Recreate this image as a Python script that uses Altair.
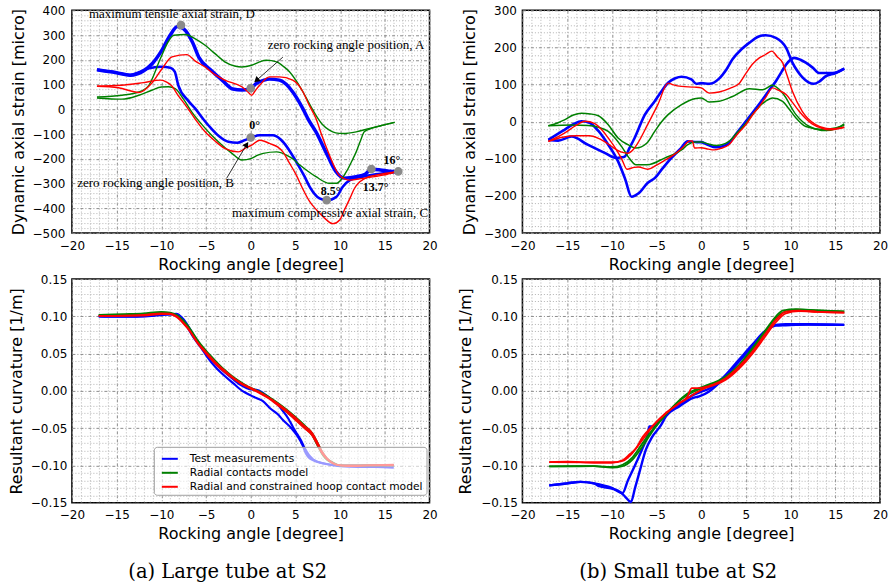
import math
import altair as alt
import pandas as pd

SERIES = ["Test measurements", "Radial contacts model", "Radial and constrained hoop contact model"]
COLORS = ["#0000ff", "#008000", "#ff0000"]

# ---------------- (a) large tube: dynamic axial strain ----------------
A_STRAIN_BLUE_UP = [(-17.2, 160), (-15, 148), (-13.5, 138), (-12, 155), (-11, 185), (-10, 235), (-9, 300),
                    (-8.2, 335), (-7.5, 325), (-6.5, 270), (-5.8, 210), (-4.5, 160), (-3.2, 118), (-2, 82),
                    (-1, 78), (0, 85), (0.6, 104), (1.5, 118), (2.1, 122), (3.2, 118), (4, 100), (4.7, 70),
                    (5.8, 5), (6.5, -45), (7.3, -91), (8.4, -172), (9.5, -250), (10.5, -278), (11.8, -272),
                    (12.8, -262), (13.5, -242), (14.5, -245), (15.5, -250), (16.5, -252)]
A_STRAIN_BLUE_LO = [(-17.2, 160), (-15, 148), (-13.5, 138), (-12.5, 150), (-11.5, 165), (-10, 172), (-9, 168),
                    (-8.5, 152), (-8.1, 97), (-7, 35), (-6.2, 3), (-5.3, -40), (-4.4, -78), (-3.5, -110),
                    (-2.5, -131), (-1.5, -135), (-0.7, -125), (0, -115), (1, -105), (2.5, -105), (3.6, -131),
                    (4.3, -165), (5.1, -212), (6, -270), (6.6, -313), (7.7, -360), (8.5, -368), (9.6, -353),
                    (10.3, -313), (11.1, -286), (12.5, -272), (14, -262), (16.5, -252)]
A_STRAIN_GREEN_UP = [(-17.2, 50), (-14.4, 57), (-12.5, 70), (-11.4, 97), (-10.1, 205), (-9.2, 275), (-8.6, 299),
                     (-7.3, 302), (-6.2, 285), (-5.1, 259), (-4, 225), (-2.9, 192), (-1.8, 175), (-1, 171),
                     (0.1, 178), (1, 192), (1.75, 198), (2.9, 192), (3.6, 175), (4.36, 151), (5.1, 115),
                     (5.85, 70), (6.6, 20), (7.3, -24), (8, -60), (8.8, -84), (9.5, -95), (10.3, -98),
                     (11.8, -91), (13.3, -77), (14.8, -64), (16.1, -53)]
A_STRAIN_GREEN_LO = [(-17.2, 46), (-14.4, 41), (-12.5, 57), (-11, 78), (-10, 90), (-9.2, 91), (-8.45, 84),
                     (-7.5, 40), (-6.6, -10), (-5.5, -60), (-4.4, -104), (-3.2, -145), (-2.1, -178), (-1, -205),
                     (0.1, -198), (0.8, -185), (1.4, -178), (2.9, -172), (4, -185), (4.8, -203), (5.5, -225),
                     (6.4, -250), (7.3, -272), (8.8, -299), (9.6, -299), (10.2, -280), (10.7, -252),
                     (11.3, -210), (11.8, -172), (12.3, -125), (12.7, -91), (13.3, -80), (14.5, -67), (16.1, -53)]
A_STRAIN_RED_UP = [(-17.2, 93), (-14.8, 87), (-12.5, 68), (-11.1, 104), (-10, 160), (-8.8, 212), (-7.15, 221),
                   (-6.2, 195), (-5.1, 171), (-4, 140), (-2.9, 118), (-1, 91), (-0.3, 70), (0.1, 57), (0.5, 75),
                   (1, 97), (2.1, 131), (3.2, 131), (4.7, 118), (5.3, 100), (5.85, 70), (6.5, 20), (7.3, -37),
                   (8, -110), (8.8, -185), (9.4, -235), (9.9, -266), (11.1, -286), (12.5, -279), (14.8, -266),
                   (16.3, -252)]
A_STRAIN_RED_LO = [(-17.2, 93), (-14.5, 97), (-12, 108), (-10.05, 118), (-9.4, 110), (-8.9, 97), (-8, 50),
                   (-7.3, 17), (-6.2, -40), (-5.1, -91), (-4, -128), (-2.9, -158), (-1.4, -172), (-0.5, -155),
                   (0.1, -145), (1, -125), (1.6, -130), (2.1, -138), (3, -152), (3.6, -172), (4.3, -215),
                   (5.1, -266), (5.8, -320), (6.6, -373), (7.4, -408), (8.1, -434), (9.2, -462), (9.95, -447),
                   (10.5, -405), (11.1, -360), (11.6, -320), (12.2, -293), (13, -275), (14, -266), (16.3, -252)]

# marked positions (gray dots) and annotations
A_DOT_X = [-7.8, 0.0, 0.0, 8.5, 13.5, 16.5]
A_DOT_Y = [340, 85, -114, -367, -241, -251]
A_NOTE_TEXT = ["maximum tensile axial strain, D", "zero rocking angle position, A",
               "zero rocking angle position, B", "maximum compressive axial strain, C"]
A_NOTE_X = [-18.1, 1.9, -19.4, -2.1]
A_NOTE_Y = [384, 259, -297, -418]
A_ANGLE_TEXT = ["0°", "8.5°", "13.7°", "16°"]
A_ANGLE_X = [0.45, 8.94, 13.97, 15.8]
A_ANGLE_Y = [-64, -330, -314, -205]
A_ARROW_FROM_X = [3.6, -2.7]
A_ARROW_FROM_Y = [211, -279]
A_ARROW_TO_X = [0.64, -0.45]
A_ARROW_TO_Y = [117, -142]

# ---------------- (b) small tube: dynamic axial strain ----------------
B_STRAIN_BLUE_A = [(-17.1, -49), (-16, -51), (-14.5, -40), (-12.7, -62), (-10.8, -84), (-9.5, -98), (-8.9, -96),
                   (-8.56, -94), (-8, -70), (-7.45, -44), (-6.3, 19), (-5.2, 55), (-4.5, 80), (-3.7, 105),
                   (-2.9, 117), (-2.2, 121), (-1.1, 114), (-0.56, 102), (0, 104), (0.9, 102), (2, 116),
                   (2.8, 140), (3.5, 168), (4.5, 195), (5.4, 213), (6.3, 228), (7.2, 233), (8.35, 226),
                   (9.5, 199), (10.2, 159), (10.8, 135), (11.3, 120), (12, 106), (12.6, 102), (13.2, 108),
                   (13.9, 122), (15.05, 131), (16, 143)]
B_STRAIN_BLUE_B = [(-17.1, -49), (-15.5, -25), (-14.3, -7), (-13.4, 1), (-12.5, -3), (-11.5, -25),
                   (-10.4, -62), (-9.3, -107), (-8.5, -155), (-7.8, -202), (-7, -193), (-6, -165), (-5.2, -152),
                   (-4.3, -125), (-3.35, -98), (-2.4, -75), (-1.5, -53), (-0.5, -55), (0, -55), (0.8, -63),
                   (1.6, -69), (2.3, -67), (3.1, -58), (4, -30), (5, 1), (6, 32), (6.85, 59), (7.6, 85),
                   (8.35, 109), (9, 135), (9.5, 154), (10.4, 172), (11.1, 167), (11.7, 159), (12.5, 145),
                   (13.2, 131), (14.7, 131), (16, 143)]
B_STRAIN_GREEN_A = [(-17.1, -11), (-16, -3), (-15.3, 5), (-14.3, 18), (-13.4, 23), (-12.4, 21), (-11.5, 16),
                    (-10.4, -8), (-9.3, -44), (-8.2, -62), (-7.3, -71), (-6.1, -58), (-5.2, -26), (-4.5, -2),
                    (-3.7, 19), (-2.2, 46), (-0.74, 62), (0, 64), (0.9, 53), (2, 55), (3.5, 68), (5.4, 89),
                    (6.85, 86), (7.97, 98), (9.1, 77), (10.6, 19), (12.1, -13), (13.9, -24), (15.05, -19),
                    (16, -6)]
B_STRAIN_GREEN_B = [(-17.1, -11), (-14.5, -9), (-12.66, -10), (-11.5, -15), (-10.4, -26), (-9.6, -45),
                    (-8.9, -67), (-8, -100), (-7.3, -116), (-6, -116), (-4.1, -98), (-2.2, -76), (-1.5, -62),
                    (-0.6, -55), (0, -55), (0.8, -60), (1.64, -64), (2.3, -62), (3.1, -53), (4, -30), (5, -4),
                    (5.7, 18), (6.5, 41), (7.2, 55), (7.97, 64), (9.1, 55), (9.8, 35), (10.6, 10), (11.7, -13),
                    (13.6, -21), (15, -17), (16, -10)]
B_STRAIN_RED_A = [(-17.1, -53), (-15.5, -42), (-14, -38), (-12.5, -38), (-11.5, -45), (-10.4, -60), (-9.5, -75),
                  (-8.9, -82), (-8.2, -85), (-7.6, -75), (-7.1, -58), (-6, -8), (-4.85, 46), (-3.7, 104),
                  (-3.2, 100), (-2.2, 95), (-0.74, 93), (0, 91), (0.9, 77), (2, 80), (3.2, 90), (4.25, 103),
                  (5, 130), (5.7, 154), (6.5, 172), (7.2, 181), (7.9, 190), (8.5, 175), (9.1, 159), (9.6, 125),
                  (10.2, 82), (11.3, 28), (12.8, -8), (14, -18), (14.7, -19), (16, -15)]
B_STRAIN_RED_B = [(-17.1, -53), (-15.3, -31), (-14, -10), (-13, 1), (-11.9, -5), (-11, -25), (-10.4, -44),
                  (-9.5, -75), (-8.9, -100), (-8.3, -128), (-7.5, -123), (-7, -122), (-6, -128), (-5, -117),
                  (-4, -103), (-3, -88), (-2, -68), (-1.3, -52), (-1, -52), (-0.74, -71), (0, -70), (0.8, -74),
                  (1.45, -76), (2.2, -72), (3.1, -62), (4, -35), (5, -8), (5.8, 20), (6.5, 41), (7.2, 65),
                  (8, 91), (8.6, 85), (9.5, 73), (10.2, 52), (10.95, 28), (12.4, -6), (13.5, -18), (14.3, -22),
                  (16, -15)]

# ---------------- (a) large tube: resultant curvature ----------------
A_CURV_BLUE_A = [(-17, 0.100), (-15, 0.0995), (-13, 0.0995), (-11, 0.101), (-10, 0.102), (-9, 0.1025),
                 (-8.3, 0.1034), (-7.8, 0.099), (-7.2, 0.088), (-6.45, 0.0727), (-5.5, 0.057), (-4.95, 0.047),
                 (-3.8, 0.030), (-3, 0.021), (-1.97, 0.0104), (-0.85, -0.0007), (0, -0.006), (0.64, -0.0096),
                 (1.4, -0.014), (2.13, -0.023), (3, -0.031), (3.6, -0.039), (4.55, -0.050), (5.2, -0.060),
                 (5.6, -0.068), (5.85, -0.074), (6.1, -0.082), (6.4, -0.088), (7, -0.093), (7.4, -0.095),
                 (8.5, -0.098), (9.2, -0.0995), (10, -0.101), (12, -0.102), (14, -0.102), (16, -0.103)]
A_CURV_BLUE_B = [(-17, 0.100), (-12, 0.100), (-10, 0.102), (-9, 0.103), (-8.3, 0.103), (-7.6, 0.097),
                 (-7, 0.087), (-6.3, 0.073), (-5, 0.051), (-4, 0.037), (-3, 0.026), (-2, 0.016), (-1, 0.007),
                 (0, 0.002), (0.64, 0.0015), (1.4, -0.003), (2.13, -0.0096), (3, -0.018), (3.6, -0.027),
                 (4.2, -0.037), (4.7, -0.048), (5.2, -0.058), (5.6, -0.066), (6, -0.076), (6.5, -0.086),
                 (7, -0.092), (8, -0.097), (10, -0.100), (16, -0.100)]
A_CURV_GREEN_A = [(-17, 0.102), (-14, 0.103), (-12, 0.104), (-10, 0.106), (-9, 0.105), (-8.3, 0.102),
                  (-7.5, 0.094), (-7, 0.087), (-6, 0.069), (-5, 0.054), (-4, 0.041), (-3, 0.029), (-2, 0.019),
                  (-1, 0.011), (0, 0.004), (1, -0.001), (2, -0.008), (3, -0.016), (4, -0.025), (5, -0.035),
                  (6, -0.046), (6.9, -0.057), (7.5, -0.070), (8, -0.082), (8.5, -0.090), (9.2, -0.096),
                  (10, -0.100), (11, -0.101), (13, -0.100), (16, -0.100)]
A_CURV_GREEN_B = [(-17, 0.102), (-12, 0.103), (-10, 0.105), (-9, 0.104), (-8.3, 0.101), (-7.5, 0.092),
                  (-7, 0.085), (-6, 0.067), (-5, 0.052), (-4, 0.039), (-3, 0.027), (-2, 0.018), (-1, 0.010),
                  (0, 0.003), (1, -0.002), (2, -0.009), (3, -0.018), (4, -0.028), (5, -0.038), (6, -0.049),
                  (6.9, -0.060), (7.5, -0.074), (8, -0.085), (8.5, -0.092), (9.2, -0.097), (10, -0.100),
                  (11, -0.100), (16, -0.100)]
A_CURV_RED_A = [(-17, 0.1005), (-14, 0.101), (-12, 0.102), (-10, 0.104), (-9, 0.1035), (-8.3, 0.100),
                (-7.5, 0.091), (-7, 0.084), (-6, 0.066), (-5, 0.052), (-4, 0.039), (-3, 0.028), (-2, 0.018),
                (-1, 0.010), (0, 0.004), (0.5, 0.001), (1, -0.002), (2, -0.009), (3, -0.017), (4, -0.026),
                (5, -0.036), (6, -0.047), (6.9, -0.057), (7.5, -0.070), (8, -0.082), (8.5, -0.090),
                (9.2, -0.097), (10, -0.100), (11, -0.101), (13, -0.100), (16, -0.099)]
A_CURV_RED_B = [(-17, 0.1005), (-12, 0.101), (-10, 0.103), (-9, 0.103), (-8.3, 0.099), (-7.5, 0.090),
                (-7, 0.083), (-6, 0.065), (-5, 0.050), (-4, 0.037), (-3, 0.026), (-2, 0.017), (-1, 0.009),
                (0, 0.003), (1, -0.003), (2, -0.010), (3, -0.019), (4, -0.028), (5, -0.039), (6, -0.050),
                (6.9, -0.060), (7.5, -0.073), (8, -0.084), (8.5, -0.091), (9.2, -0.097), (10, -0.100),
                (11, -0.100), (16, -0.100)]

# ---------------- (b) small tube: resultant curvature ----------------
B_CURV_BLUE_A = [(-17, -0.1267), (-15, -0.124), (-13.5, -0.122), (-12, -0.124), (-11.4, -0.1278), (-10, -0.131),
                 (-9, -0.136), (-8.5, -0.142), (-7.86, -0.149), (-7.4, -0.130), (-6.93, -0.110),
                 (-6.19, -0.0788), (-5.5, -0.062), (-4.5, -0.046), (-3.95, -0.0342), (-2.46, -0.0208),
                 (-0.97, -0.0096), (-0.23, -0.0074), (0.89, -0.0007), (2.38, 0.015), (4.24, 0.0394),
                 (5.73, 0.0595), (7.22, 0.0796), (8.34, 0.0885), (9.46, 0.0894), (12, 0.0894), (16, 0.0885)]
B_CURV_BLUE_B = [(-17, -0.1267), (-15, -0.124), (-13.5, -0.122), (-12, -0.124), (-10, -0.130), (-8.8, -0.137),
                 (-8.2, -0.120), (-7.3, -0.097), (-6.6, -0.078), (-6, -0.059), (-5.8, -0.0476), (-5.4, -0.048),
                 (-4.5, -0.038), (-3.2, -0.024), (-2, -0.014), (-1, -0.006), (0, -0.001), (0.89, 0.003),
                 (2.38, 0.017), (4.24, 0.042), (5.73, 0.062), (7.22, 0.081), (8.34, 0.0875), (9.46, 0.088),
                 (12, 0.0888), (16, 0.0885)]
B_CURV_GREEN_A = [(-17, -0.1013), (-14, -0.101), (-12, -0.101), (-10, -0.103), (-8.8, -0.101), (-7.68, -0.092),
                  (-6.56, -0.0743), (-5.44, -0.054), (-3.95, -0.032), (-1.72, -0.0052), (-0.23, 0.0037),
                  (1.26, 0.0104), (2.75, 0.0194), (4.24, 0.035), (5.73, 0.0573), (7.22, 0.0818),
                  (8.34, 0.0996), (9.1, 0.1077), (10.6, 0.1095), (13, 0.108), (16, 0.1063)]
B_CURV_GREEN_B = [(-17, -0.1013), (-12, -0.101), (-10, -0.102), (-8.8, -0.099), (-7.68, -0.089), (-6.56, -0.070),
                  (-5.44, -0.052), (-3.95, -0.031), (-1.72, -0.007), (-0.23, 0.002), (1.26, 0.009),
                  (2.75, 0.018), (4.24, 0.033), (5.73, 0.055), (7.22, 0.079), (8.34, 0.097), (9.1, 0.105),
                  (10.6, 0.109), (13, 0.108), (16, 0.1065)]
B_CURV_RED_A = [(-17, -0.0955), (-15, -0.095), (-12, -0.096), (-10, -0.096), (-8.8, -0.094), (-8, -0.087),
                (-7.68, -0.083), (-6.56, -0.0654), (-5.44, -0.0476), (-3.95, -0.0297), (-2.46, -0.0163),
                (-1.53, -0.0074), (-1.05, 0.0037), (-0.23, 0.0037), (1.26, 0.0082), (2.75, 0.017),
                (4.24, 0.0327), (5.73, 0.0528), (7.22, 0.0773), (8.34, 0.0952), (9.46, 0.1063),
                (10.95, 0.1077), (13, 0.106), (16, 0.105)]
B_CURV_RED_B = [(-17, -0.0955), (-12, -0.096), (-10, -0.096), (-8.8, -0.093), (-8, -0.085), (-7.3, -0.077),
                (-6.56, -0.062), (-5.44, -0.047), (-3.95, -0.030), (-2.46, -0.017), (-1.5, -0.010),
                (-0.5, -0.002), (0.5, 0.004), (1.26, 0.007), (2.75, 0.015), (4.24, 0.030), (5.73, 0.050),
                (7.22, 0.074), (8.34, 0.092), (9.46, 0.104), (10.95, 0.107), (13, 0.106), (16, 0.105)]

X_TICKS = list(range(-20, 21))
A_STRAIN_TICKS = list(range(-500, 401, 20))
B_STRAIN_TICKS = list(range(-300, 301, 20))
CURV_TICKS = [k / 100 for k in range(-15, 16)]

PLOT_W = 358
TOP_H = 223
BOT_H = 224
FONT = "DejaVu Sans"


def lines_df(groups):
    rows = []
    for series, tag, pts, width in groups:
        for i, (x, y) in enumerate(pts):
            rows.append({"series": series, "branch": f"{SERIES.index(series)}-{tag}",
                         "x": x, "y": y, "i": i, "w": width})
    return pd.DataFrame(rows)


def grid_props(test):
    return dict(
        grid=True,
        gridColor={"condition": {"test": test, "value": "#8c8c8c"}, "value": "#b4b4b4"},
        gridDash={"condition": {"test": test, "value": [3, 2, 1, 2]}, "value": [1, 2]},
        gridWidth=1,
    )


def x_enc():
    ax = alt.Axis(values=X_TICKS, labelExpr="datum.value % 5 === 0 ? datum.label : ''",
                  ticks=False, domain=False, labelPadding=7, labelFontSize=12, labelColor="black",
                  labelFlush=False, labelOverlap=False, labelFont=FONT,
                  titleFontSize=16, titleFontWeight="normal", titleColor="black", titleFont=FONT,
                  titlePadding=3, minExtent=20, maxExtent=20,
                  **grid_props("datum.value % 5 === 0"))
    return alt.X("x:Q", scale=alt.Scale(domain=[-20, 20], nice=False, zero=False), axis=ax,
                 title="Rocking angle [degree]")


def y_enc(ticks, dom, test, title, labpad, ext, fmt=None):
    kw = dict(values=ticks, labelExpr=f"({test}) ? datum.label : ''",
              ticks=False, domain=False, labelPadding=labpad, labelFontSize=12, labelColor="black",
              labelFlush=False, labelOverlap=False, labelFont=FONT,
              titleFontSize=16, titleFontWeight="normal", titleColor="black", titleFont=FONT,
              titlePadding=0, minExtent=ext, maxExtent=ext, **grid_props(test))
    if fmt:
        kw["format"] = fmt
    return alt.Y("y:Q", scale=alt.Scale(domain=dom, nice=False, zero=False), axis=alt.Axis(**kw), title=title)


def line_layer(df, X, Y, legend=None):
    return alt.Chart(df).mark_line(interpolate="monotone").encode(
        x=X, y=Y,
        color=alt.Color("series:N", scale=alt.Scale(domain=SERIES, range=COLORS), legend=legend),
        detail="branch:N",
        order="i:Q",
        strokeWidth=alt.StrokeWidth("w:Q", scale=None),
    )


# ---- panel (a) strain ----
X = x_enc()
Y_A = y_enc(A_STRAIN_TICKS, [-500, 400], "datum.value % 100 === 0", "Dynamic axial strain [micro]", 7, 45)
df_a = lines_df([
    (SERIES[0], "up", A_STRAIN_BLUE_UP, 3.5), (SERIES[0], "lo", A_STRAIN_BLUE_LO, 2.6),
    (SERIES[1], "up", A_STRAIN_GREEN_UP, 1.4), (SERIES[1], "lo", A_STRAIN_GREEN_LO, 1.4),
    (SERIES[2], "up", A_STRAIN_RED_UP, 1.4), (SERIES[2], "lo", A_STRAIN_RED_LO, 1.4),
])
dots = pd.DataFrame({"x": A_DOT_X, "y": A_DOT_Y})
notes = pd.DataFrame({"x": A_NOTE_X, "y": A_NOTE_Y, "t": A_NOTE_TEXT})
angles = pd.DataFrame({"x": A_ANGLE_X, "y": A_ANGLE_Y, "t": A_ANGLE_TEXT})
px_x = PLOT_W / 40.0
px_y = TOP_H / 900.0
head_angle = [math.degrees(math.atan2((tx - fx) * px_x, (ty - fy) * px_y))
              for fx, fy, tx, ty in zip(A_ARROW_FROM_X, A_ARROW_FROM_Y, A_ARROW_TO_X, A_ARROW_TO_Y)]
head_angle = [a % 360 for a in head_angle]
arrows = pd.DataFrame({"x": A_ARROW_FROM_X, "y": A_ARROW_FROM_Y, "x2": A_ARROW_TO_X, "y2": A_ARROW_TO_Y})
heads = pd.DataFrame({"x": A_ARROW_TO_X, "y": A_ARROW_TO_Y, "ang": head_angle})

panel_a1 = alt.layer(
    line_layer(df_a, X, Y_A),
    alt.Chart(arrows).mark_rule(color="black", strokeWidth=0.8).encode(x=X, y=Y_A, x2="x2:Q", y2="y2:Q"),
    alt.Chart(heads).mark_point(shape="triangle-up", filled=True, color="black", size=45, opacity=1).encode(
        x=X, y=Y_A, angle=alt.Angle("ang:Q", scale=None)),
    alt.Chart(dots).mark_circle(color="#8a8a8a", size=75, opacity=1).encode(x=X, y=Y_A),
    alt.Chart(notes).mark_text(align="left", baseline="middle", font="Liberation Serif", fontSize=13,
                               color="black").encode(x=X, y=Y_A, text="t:N"),
    alt.Chart(angles).mark_text(align="center", baseline="middle", font="Liberation Serif", fontSize=12,
                                fontWeight="bold", color="black").encode(x=X, y=Y_A, text="t:N"),
).properties(width=PLOT_W, height=TOP_H)

# ---- panel (b) strain ----
Y_B = y_enc(B_STRAIN_TICKS, [-300, 300], "datum.value % 100 === 0", "Dynamic axial strain [micro]", 6, 45)
df_b = lines_df([
    (SERIES[0], "a", B_STRAIN_BLUE_A, 2.6), (SERIES[0], "b", B_STRAIN_BLUE_B, 2.6),
    (SERIES[1], "a", B_STRAIN_GREEN_A, 1.5), (SERIES[1], "b", B_STRAIN_GREEN_B, 1.5),
    (SERIES[2], "a", B_STRAIN_RED_A, 1.4), (SERIES[2], "b", B_STRAIN_RED_B, 1.4),
])
panel_b1 = line_layer(df_b, X, Y_B).properties(width=PLOT_W, height=TOP_H)

# ---- panel (a) curvature ----
CURV_TEST = "abs(round(datum.value * 100)) % 5 === 0"
Y_C = y_enc(CURV_TICKS, [-0.15, 0.15], CURV_TEST, "Resultant curvature [1/m]", 5, 47, fmt=".2f")
df_c = lines_df([
    (SERIES[0], "a", A_CURV_BLUE_A, 2.2), (SERIES[0], "b", A_CURV_BLUE_B, 2.2),
    (SERIES[1], "a", A_CURV_GREEN_A, 1.8), (SERIES[1], "b", A_CURV_GREEN_B, 1.8),
    (SERIES[2], "a", A_CURV_RED_A, 1.8), (SERIES[2], "b", A_CURV_RED_B, 1.8),
])
legend = alt.Legend(title=None, orient="none", legendX=82, legendY=168, symbolType="stroke", symbolSize=256,
                    symbolStrokeWidth=2, labelFont=FONT, labelFontSize=10.7, labelColor="black",
                    labelOffset=11, labelLimit=400, padding=3, symbolOffset=4, rowPadding=0,
                    strokeColor="#a0a0a0", fillColor="rgba(255,255,255,0.6)", cornerRadius=3)
panel_a2 = line_layer(df_c, X, Y_C, legend=legend).properties(
    width=PLOT_W, height=BOT_H,
    title=alt.TitleParams("(a) Large tube at S2", orient="bottom", font="DejaVu Serif", fontSize=19.5,
                          fontWeight="normal", color="black", offset=21, dx=-23, anchor="middle",
                          baseline="top"))

# ---- panel (b) curvature ----
Y_D = y_enc(CURV_TICKS, [-0.15, 0.15], CURV_TEST, "Resultant curvature [1/m]", 5, 49, fmt=".2f")
df_d = lines_df([
    (SERIES[0], "a", B_CURV_BLUE_A, 2.4), (SERIES[0], "b", B_CURV_BLUE_B, 2.4),
    (SERIES[1], "a", B_CURV_GREEN_A, 1.8), (SERIES[1], "b", B_CURV_GREEN_B, 1.8),
    (SERIES[2], "a", B_CURV_RED_A, 1.8), (SERIES[2], "b", B_CURV_RED_B, 1.8),
])
panel_b2 = line_layer(df_d, X, Y_D).properties(
    width=PLOT_W, height=BOT_H,
    title=alt.TitleParams("(b) Small tube at S2", orient="bottom", font="DejaVu Serif", fontSize=19.5,
                          fontWeight="normal", color="black", offset=21, dx=-23, anchor="middle",
                          baseline="top"))

chart = alt.concat(panel_a1, panel_b1, panel_a2, panel_b2, columns=2,
                   spacing={"row": 46, "column": 93}, bounds="flush").resolve_scale(
    color="independent").properties(
    padding={"left": 8, "top": 3, "right": 0, "bottom": 5}
).configure(font=FONT).configure_view(stroke="black", strokeWidth=1.5)

chart.save("out.html", embed_options={"renderer": "svg", "actions": False})
